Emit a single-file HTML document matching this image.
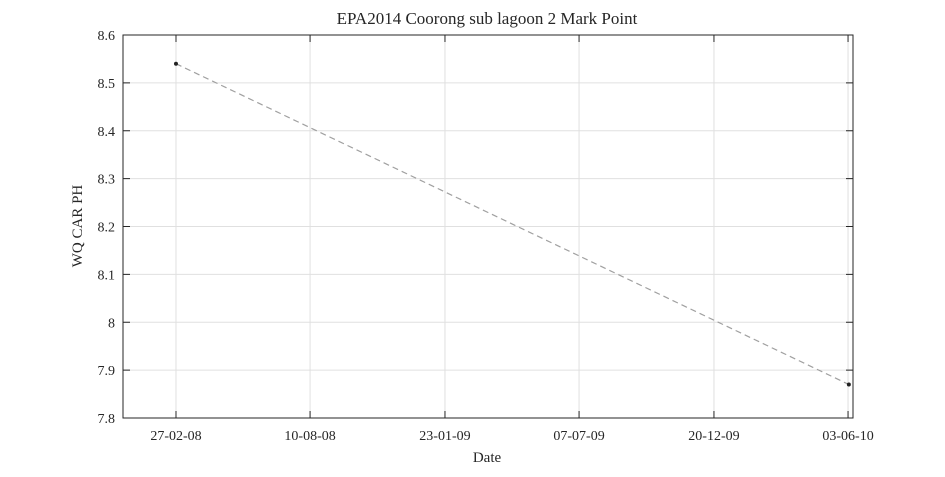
<!DOCTYPE html>
<html><head><meta charset="utf-8">
<style>
body{margin:0;background:#fff;}
svg text{font-family:"Liberation Serif",serif;fill:#262626;}
</style></head>
<body>
<svg id="chart" width="945" height="472" xmlns="http://www.w3.org/2000/svg">
<rect width="945" height="472" fill="#fff"/>
<g id="grid"></g>
<g id="series"></g>
<g id="axes"></g>
<text x="487" y="24" font-size="17" text-anchor="middle">EPA2014 Coorong sub lagoon 2 Mark Point</text>
<text x="487" y="462" font-size="15" text-anchor="middle">Date</text>
<text x="82" y="226" font-size="15" text-anchor="middle" transform="rotate(-90 82 226)">WQ CAR PH</text>
</svg>
<script>
const dates = ["2008-02-27","2010-06-04"];
const values = [8.54, 7.87];
const xTickLabels = ["27-02-08","10-08-08","23-01-09","07-07-09","20-12-09","03-06-10"];
const xTickDates = ["2008-02-27","2008-08-10","2009-01-23","2009-07-07","2009-12-20","2010-06-03"];
const yTicks = [7.8,7.9,8,8.1,8.2,8.3,8.4,8.5,8.6];

const L=123,R=853,T=35,B=418;
const DAY=86400000;
const d0=Date.parse("2008-02-27");
const xMin=d0-65.2*DAY, xMax=d0+833.1*DAY;
const x=d=>L+(Date.parse(d)-xMin)/(xMax-xMin)*(R-L);
const y=v=>B-(v-7.8)/(0.8)*(B-T);
const NS="http://www.w3.org/2000/svg";
function mk(tag,attrs,parent){const e=document.createElementNS(NS,tag);for(const k in attrs)e.setAttribute(k,attrs[k]);parent.appendChild(e);return e;}
const grid=document.getElementById('grid'),axes=document.getElementById('axes'),series=document.getElementById('series');

yTicks.forEach(v=>{
  const yy=y(v);
  const g=mk('line',{x1:L,x2:R,y1:yy,y2:yy,stroke:'#e0e0e0','stroke-width':1},grid);
  
  
  mk('line',{x1:L,x2:L+7,y1:yy,y2:yy,stroke:'#262626'},axes);
  mk('line',{x1:R,x2:R-7,y1:yy,y2:yy,stroke:'#262626'},axes);
  const t=mk('text',{x:L-8,y:yy+5,'font-size':14,'text-anchor':'end'},axes);
  t.textContent=String(v);
  
  
});
xTickDates.forEach((d,i)=>{
  const xx=x(d);
  const g=mk('line',{x1:xx,x2:xx,y1:T,y2:B,stroke:'#e0e0e0','stroke-width':1},grid);
  
  
  mk('line',{x1:xx,x2:xx,y1:B,y2:B-7,stroke:'#262626'},axes);
  mk('line',{x1:xx,x2:xx,y1:T,y2:T+7,stroke:'#262626'},axes);
  const t=mk('text',{x:xx,y:B+22,'font-size':14,'text-anchor':'middle'},axes);
  t.textContent=xTickLabels[i];
  
  
});
const box=mk('rect',{x:L,y:T,width:R-L,height:B-T,fill:'none',stroke:'#262626','stroke-width':1},axes);



const pts=dates.map((d,i)=>x(d)+','+y(values[i])).join(' ');
const line=mk('polyline',{points:pts,fill:'none',stroke:'#a0a0a0','stroke-width':1.2,'stroke-dasharray':'6,4'},series);


dates.forEach((d,i)=>{
  const c=mk('circle',{cx:x(d),cy:y(values[i]),r:2,fill:'#222'},series);
  
  
});
</script>
</body></html>
